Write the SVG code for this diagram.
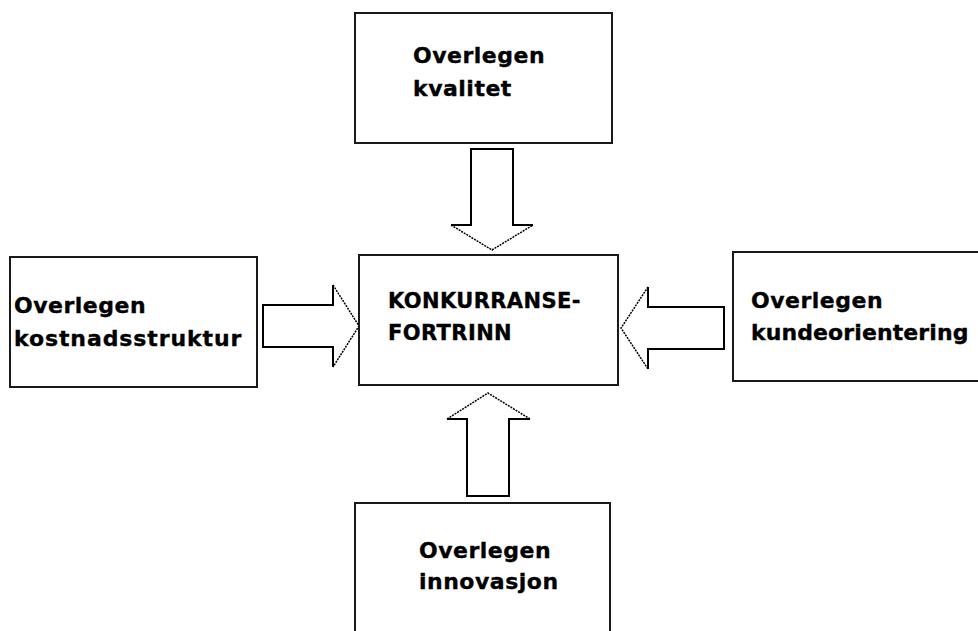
<svg xmlns="http://www.w3.org/2000/svg" width="978" height="631" viewBox="0 0 978 631">
  <style>
    .box { fill: #ffffff; stroke: #1a1a1a; stroke-width: 2; }
    .lbl { font-family: "DejaVu Sans", Verdana, sans-serif; font-weight: bold; font-size: 22px; fill: #000000; stroke: #000000; stroke-width: 0.35; letter-spacing: 0.5px; }
    .ctr { font-size: 21px; letter-spacing: 0.4px; }
    .body { fill: #ffffff; stroke: none; }
    .edge { fill: none; stroke: #000000; stroke-width: 2; stroke-linejoin: miter; }
    .tip { fill: none; stroke: #000000; stroke-width: 1.5; stroke-dasharray: 2 1; }
  </style>
  <rect width="978" height="631" fill="#ffffff"/>

  <!-- block arrows pointing into the centre box -->
  <g id="connectors">
    <g id="arrow-top">
      <polygon class="body" points="451,225 471,225 471,149 513,149 513,225 533,225 492,250"/>
      <path class="edge" d="M451,225 H471 V149 H513 V225 H533"/>
      <path class="tip" d="M451,225 L492,250 L533,225"/>
    </g>
    <g id="arrow-left">
      <polygon class="body" points="333,285 333,305 263,305 263,347 333,347 333,367 359,326"/>
      <path class="edge" d="M333,285 V305 H263 V347 H333 V367"/>
      <path class="tip" d="M333,285 L359,326 L333,367"/>
    </g>
    <g id="arrow-right">
      <polygon class="body" points="648,287 648,307 724,307 724,349 648,349 648,369 621,328"/>
      <path class="edge" d="M648,287 V307 H724 V349 H648 V369"/>
      <path class="tip" d="M648,287 L621,328 L648,369"/>
    </g>
    <g id="arrow-bottom">
      <polygon class="body" points="447,419 467,419 467,496 509,496 509,419 530,419 488,393"/>
      <path class="edge" d="M447,419 H467 V496 H509 V419 H530"/>
      <path class="tip" d="M447,419 L488,393 L530,419"/>
    </g>
  </g>

  <g id="node-kvalitet">
    <rect class="box" x="355" y="13" width="257" height="130"/>
    <text class="lbl" x="413" y="63">Overlegen</text>
    <text class="lbl" x="413" y="96">kvalitet</text>
  </g>

  <g id="node-konkurransefortrinn">
    <rect class="box" x="359" y="255" width="259" height="130"/>
    <text class="lbl ctr" x="388" y="308">KONKURRANSE-</text>
    <text class="lbl ctr" x="388" y="340">FORTRINN</text>
  </g>

  <g id="node-kostnadsstruktur">
    <rect class="box" x="10" y="257" width="247" height="130"/>
    <text class="lbl" x="14" y="313">Overlegen</text>
    <text class="lbl" x="14" y="346" style="letter-spacing:0.9px">kostnadsstruktur</text>
  </g>

  <g id="node-kundeorientering">
    <rect class="box" x="733" y="252" width="260" height="129"/>
    <text class="lbl" x="751" y="308">Overlegen</text>
    <text class="lbl" x="751" y="340" style="letter-spacing:0.1px">kundeorientering</text>
  </g>

  <g id="node-innovasjon">
    <rect class="box" x="355" y="503" width="255" height="140"/>
    <text class="lbl" x="419" y="558">Overlegen</text>
    <text class="lbl" x="419" y="589">innovasjon</text>
  </g>
</svg>
